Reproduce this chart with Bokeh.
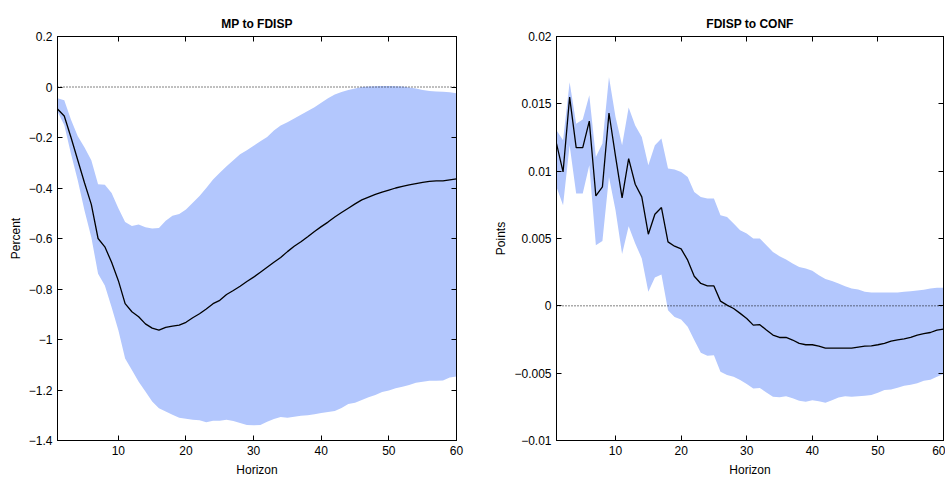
from bokeh.plotting import figure
from bokeh.layouts import row
from bokeh.models import (LinearAxis, Range1d, FixedTicker, Span, CustomLabelingPolicy,
                          CustomJSTickFormatter)
from bokeh.embed import file_html
from bokeh.resources import INLINE

horizon = list(range(1, 61))

# Panel 1: MP to FDISP (Percent)
mp_mean = [-0.087, -0.115, -0.20, -0.29, -0.38, -0.465, -0.60, -0.633, -0.694, -0.767,
           -0.858, -0.89, -0.91, -0.938, -0.955, -0.963, -0.952, -0.947, -0.943, -0.932,
           -0.914, -0.898, -0.879, -0.858, -0.845, -0.822, -0.806, -0.789, -0.770, -0.753,
           -0.734, -0.714, -0.694, -0.675, -0.652, -0.631, -0.613, -0.593, -0.572, -0.553,
           -0.535, -0.515, -0.497, -0.480, -0.463, -0.447, -0.436, -0.425, -0.416, -0.408,
           -0.400, -0.394, -0.388, -0.383, -0.378, -0.374, -0.372, -0.372, -0.368, -0.364]
mp_upper = [-0.045, -0.052, -0.13, -0.195, -0.24, -0.29, -0.385, -0.387, -0.42, -0.48,
            -0.535, -0.55, -0.545, -0.555, -0.56, -0.558, -0.53, -0.51, -0.503, -0.485,
            -0.458, -0.432, -0.40, -0.366, -0.34, -0.314, -0.29, -0.266, -0.25, -0.233,
            -0.215, -0.198, -0.172, -0.152, -0.14, -0.125, -0.11, -0.095, -0.08, -0.062,
            -0.045, -0.03, -0.02, -0.012, -0.006, 0.0, 0.002, 0.003, 0.004, 0.004,
            0.003, 0.002, -0.002, -0.006, -0.012, -0.016, -0.018, -0.019, -0.021, -0.025]
mp_lower = [-0.097, -0.15, -0.265, -0.37, -0.49, -0.595, -0.74, -0.786, -0.872, -0.963,
            -1.075, -1.121, -1.167, -1.206, -1.246, -1.272, -1.285, -1.298, -1.310, -1.314,
            -1.318, -1.32, -1.328, -1.322, -1.322, -1.318, -1.323, -1.331, -1.339, -1.340,
            -1.339, -1.326, -1.315, -1.307, -1.310, -1.306, -1.302, -1.300, -1.296, -1.291,
            -1.287, -1.283, -1.271, -1.255, -1.250, -1.240, -1.229, -1.220, -1.208, -1.202,
            -1.193, -1.187, -1.180, -1.171, -1.167, -1.163, -1.163, -1.162, -1.150, -1.147]

# Panel 2: FDISP to CONF (Points)
cf_mean = [0.01205, 0.00994, 0.0155, 0.01175, 0.01175, 0.01372, 0.00816, 0.00883, 0.01432, 0.0111,
           0.00801, 0.01093, 0.00903, 0.00809, 0.00532, 0.0068, 0.0073, 0.00475, 0.00443, 0.00423,
           0.00339, 0.0022, 0.00166, 0.00148, 0.00148, 0.00035, 0.00005, -0.0002, -0.00056, -0.00094,
           -0.00143, -0.0014, -0.0018, -0.00217, -0.00235, -0.00235, -0.00254, -0.00279, -0.00289, -0.00289,
           -0.00299, -0.00314, -0.00314, -0.00314, -0.00314, -0.00314, -0.00306, -0.00299, -0.00297, -0.00289,
           -0.00279, -0.00262, -0.00252, -0.00245, -0.00235, -0.00217, -0.00207, -0.00198, -0.0018, -0.00173]
cf_upper = [0.01303, 0.0123, 0.0166, 0.01353, 0.01383, 0.01563, 0.01105, 0.01205, 0.01699, 0.01402,
            0.01192, 0.01472, 0.0134, 0.01254, 0.01044, 0.01192, 0.01242, 0.0102, 0.01012, 0.00994,
            0.00957, 0.00846, 0.00809, 0.00797, 0.00797, 0.00673, 0.0066, 0.00611, 0.00562, 0.00537,
            0.005, 0.005, 0.0045, 0.004, 0.00369, 0.00344, 0.00315, 0.00289, 0.00277, 0.0026,
            0.00228, 0.002, 0.00185, 0.00166, 0.00146, 0.00129, 0.00122, 0.00104, 0.00099, 0.00099,
            0.00099, 0.00099, 0.00099, 0.00104, 0.00108, 0.00114, 0.0012, 0.00129, 0.00134, 0.00134]
cf_lower = [0.00883, 0.00747, 0.01192, 0.00834, 0.00834, 0.01044, 0.0045, 0.00482, 0.00957, 0.0071,
            0.00384, 0.00591, 0.00463, 0.00352, 0.00104, 0.0021, 0.00233, -0.00032, -0.00082, -0.00101,
            -0.00156, -0.00254, -0.00349, -0.00371, -0.00367, -0.0049, -0.00514, -0.00527, -0.00551, -0.00581,
            -0.00613, -0.0061, -0.00643, -0.00675, -0.00679, -0.00671, -0.00687, -0.00705, -0.00712, -0.00702,
            -0.00708, -0.0072, -0.00702, -0.0068, -0.00671, -0.00675, -0.00671, -0.00668, -0.00662, -0.00645,
            -0.00625, -0.00621, -0.00608, -0.00593, -0.00586, -0.00574, -0.00556, -0.00549, -0.00527, -0.00507]

x_ticks = [10, 20, 30, 40, 50, 60]
mp_yticks = [0.2, 0.0, -0.2, -0.4, -0.6, -0.8, -1.0, -1.2, -1.4]
mp_ylabels = ["0.2", "0", "\u22120.2", "\u22120.4", "\u22120.6", "\u22120.8", "\u22121", "\u22121.2", "\u22121.4"]
cf_yticks = [0.02, 0.015, 0.01, 0.005, 0.0, -0.005, -0.01]
cf_ylabels = ["0.02", "0.015", "0.01", "0.005", "0", "\u22120.005", "\u22120.01"]

FONT = "Liberation Sans"
BAND = "#b3c7fd"


def panel(title, ylabel, mean, lo, hi, yr, yticks, ylabels, width, bl, br):
    p = figure(width=width, height=479, x_range=Range1d(1, 60), y_range=Range1d(*yr),
               output_backend="svg", toolbar_location=None, title=title,
               min_border_left=bl, min_border_right=br, min_border_top=36, min_border_bottom=38)
    p.varea(x=horizon, y1=lo, y2=hi, fill_color=BAND, fill_alpha=1.0)
    p.add_layout(Span(location=0, dimension="width", line_color="black",
                      line_dash="1 2", line_width=1))
    p.line(horizon, mean, line_color="black", line_width=1.3)

    p.title.align = "center"
    p.title.text_font = FONT
    p.title.text_font_size = "12px"
    p.title.text_font_style = "bold"
    p.title.text_color = "black"
    p.title.standoff = 12

    p.xgrid.visible = False
    p.ygrid.visible = False
    p.outline_line_color = "black"
    p.outline_line_alpha = 1.0
    p.outline_line_width = 1

    yover = {v: l for v, l in zip(yticks, ylabels)}
    xover = {v: str(v) for v in x_ticks}

    p.xaxis.ticker = FixedTicker(ticks=x_ticks)
    p.xaxis.major_label_overrides = xover
    p.xaxis.axis_label = "Horizon"
    p.yaxis.ticker = FixedTicker(ticks=yticks)
    p.yaxis.major_label_overrides = yover
    p.yaxis.axis_label = ylabel

    for ax in (p.xaxis[0], p.yaxis[0]):
        ax.major_tick_in = 5
        ax.major_tick_out = 0
        ax.minor_tick_in = 0
        ax.minor_tick_out = 0
        ax.axis_line_color = "black"
        ax.major_tick_line_color = "black"
        ax.major_label_text_font = FONT
        ax.major_label_text_font_size = "12px"
        ax.major_label_text_color = "black"
        ax.axis_label_text_font = FONT
        ax.axis_label_text_font_size = "12px"
        ax.axis_label_text_font_style = "normal"
        ax.axis_label_text_color = "black"
        ax.major_label_standoff = 5
    p.xaxis.axis_label_standoff = 5
    p.yaxis.axis_label_standoff = 3

    for loc, tk in (("right", yticks), ("above", x_ticks)):
        ax = LinearAxis(ticker=FixedTicker(ticks=tk), major_tick_in=5, major_tick_out=0,
                        minor_tick_in=0, minor_tick_out=0,
                        formatter=CustomJSTickFormatter(code="return ''"),
                        major_label_policy=CustomLabelingPolicy(code="return new Set()"),
                        major_label_standoff=0, axis_line_color="black",
                        major_tick_line_color="black")
        p.add_layout(ax, loc)
    return p


p1 = panel("MP to FDISP", "Percent", mp_mean, mp_lower, mp_upper, (-1.4, 0.2),
           mp_yticks, mp_ylabels, 470, 57, 14)
p2 = panel("FDISP to CONF", "Points", cf_mean, cf_lower, cf_upper, (-0.01, 0.02),
           cf_yticks, cf_ylabels, 475, 86, 2)

layout = row(p1, p2)
open("out.html", "w").write(file_html(layout, INLINE))
